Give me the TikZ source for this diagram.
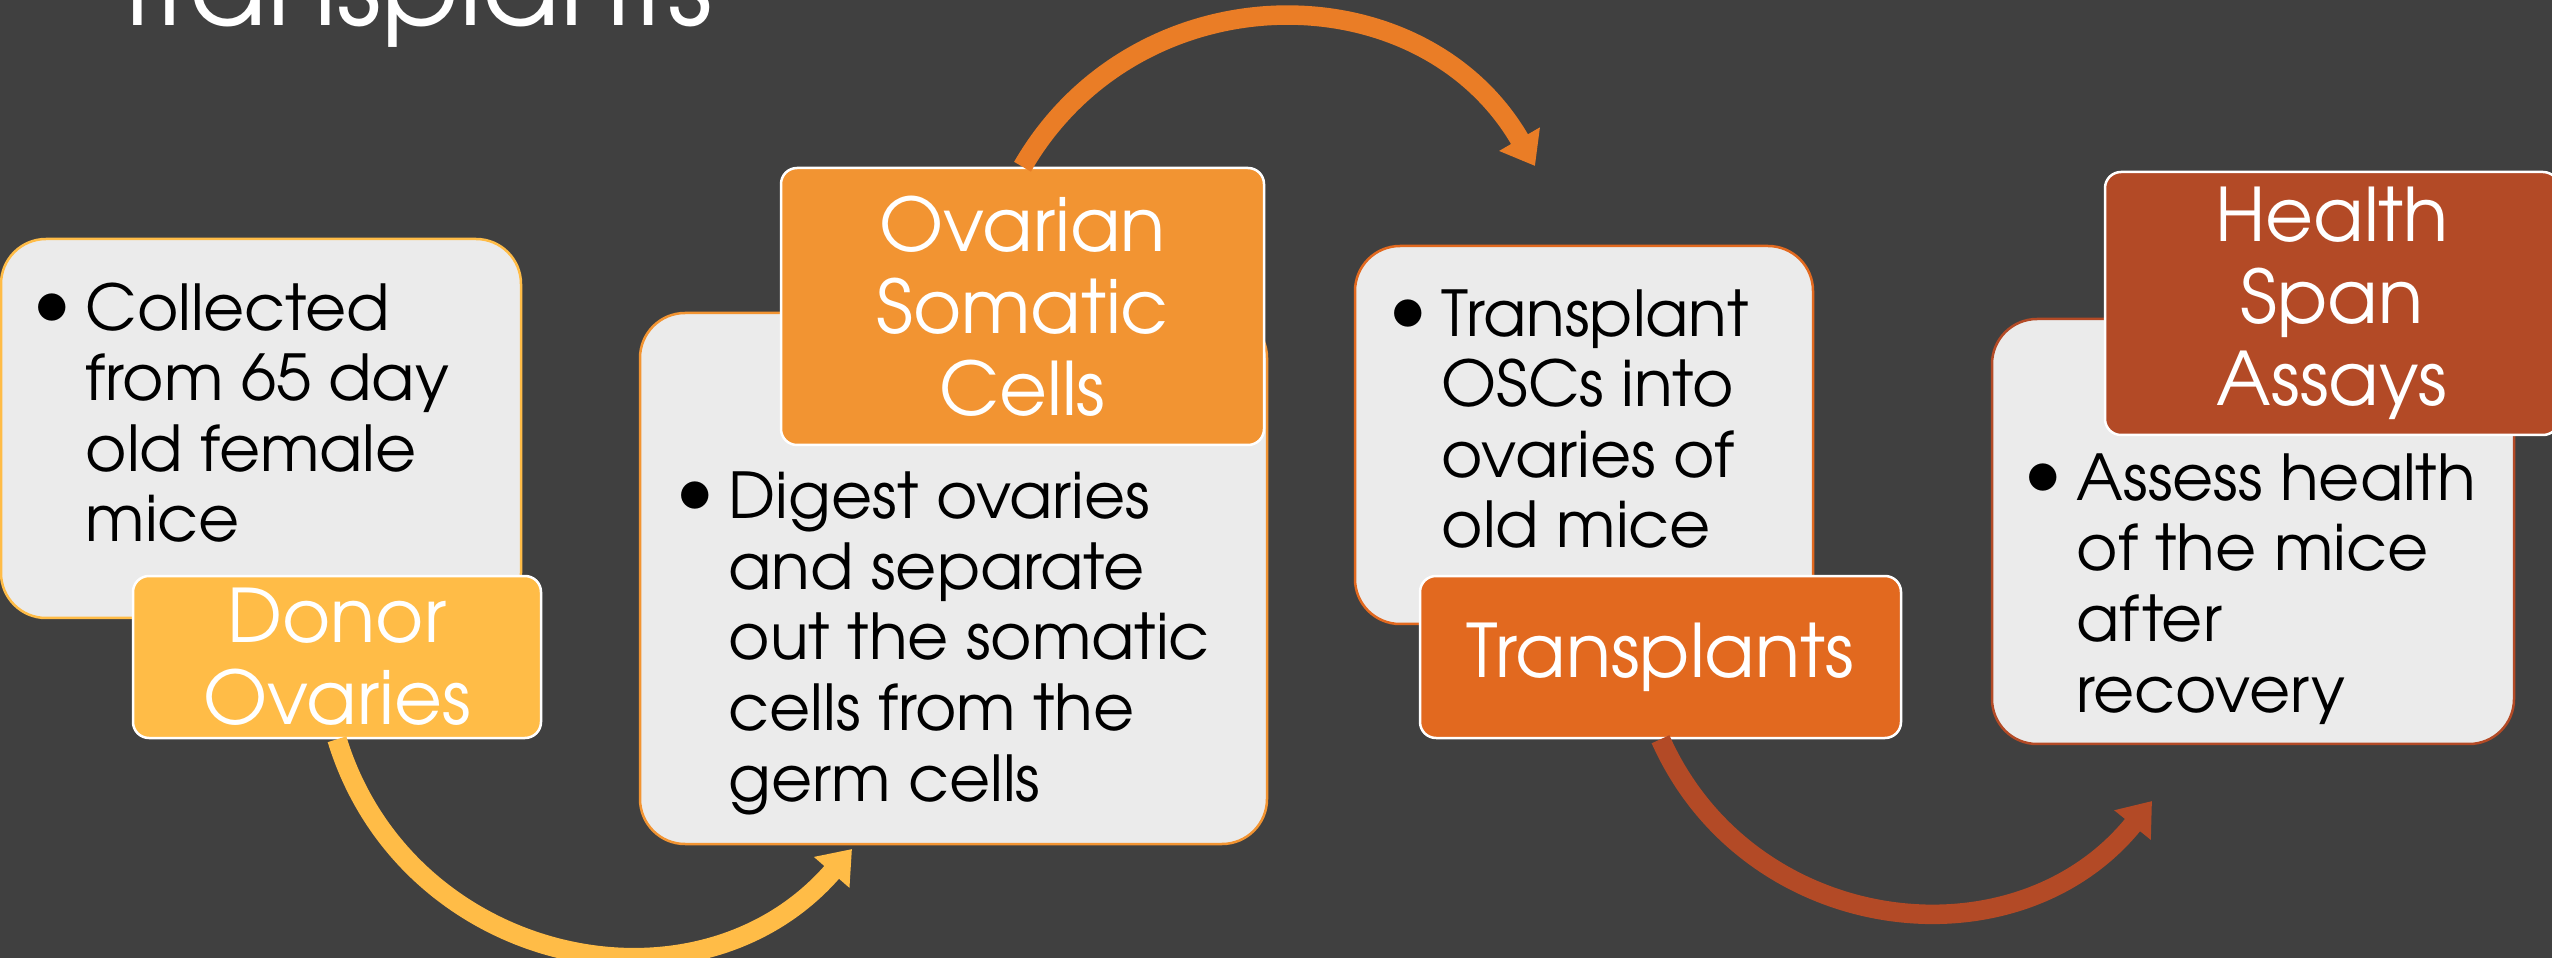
\documentclass[tikz,border=0pt]{standalone}
\usepackage{fontspec}
\usepackage{graphicx}
\setmainfont{texgyreadventor}[Extension=.otf, UprightFont=*-regular, BoldFont=*-bold, ItalicFont=*-italic, BoldItalicFont=*-bolditalic]
\usetikzlibrary{arrows.meta}
\definecolor{slidebg}{HTML}{404040}
\definecolor{cardgray}{HTML}{EBEBEB}
\definecolor{cyellow}{HTML}{FFBC47}
\definecolor{corange}{HTML}{F29432}
\definecolor{carrow}{HTML}{EA7D26}
\definecolor{cdeep}{HTML}{E2691F}
\definecolor{cbrown}{HTML}{B34A26}
\newcommand{\bul}{\llap{\raisebox{0.4mm}{\scalebox{1.2}{\textbullet}}\kern1.4mm}}
\begin{document}
\begin{tikzpicture}[line join=round, line cap=round, x=0.1mm, y=0.1mm, font=\fontsize{18pt}{20.1pt}\selectfont]
	\tikzset{card/.style={rectangle,rounded corners=4.5mm,fill=cardgray,line width=0.25mm,inner sep=0pt},
		tag/.style={rectangle,rounded corners=1.6mm,draw=white,line width=0.25mm,text=white,align=center,inner sep=0pt,font=\fontsize{21pt}{23.3pt}\selectfont},
		pts/.style={anchor=base west,align=left,inner sep=0pt,text=black},
		flow/.style={line width=1.95mm,line cap=butt,-{Triangle[width=4.5mm,length=3.1mm]}}}
	\path[fill=slidebg,use as bounding box](0,0)rectangle(2552,-958);
	\node[anchor=base west,inner sep=0pt,text=white,font=\fontsize{32.5pt}{39pt}\selectfont](ttl)at(113,-26){Transplants};
	% cards and their tags
	\path(261,-428.5)node[card,draw=cyellow,minimum width=52mm,minimum height=37.9mm](b1){}
	(337,-657)node[tag,fill=cyellow,minimum width=40.8mm,minimum height=16.2mm](l1){Donor\\Ovaries};
	\path(953.5,-578.5)node[card,draw=corange,minimum width=62.7mm,minimum height=53.1mm](b2){}
	(1022.5,-306.5)node[tag,fill=corange,minimum width=48.3mm,minimum height=27.7mm](l2){Ovarian\\Somatic\\Cells};
	\path(1584,-435)node[card,draw=cdeep,minimum width=45.8mm,minimum height=37.8mm](b3){}
	(1660.5,-657)node[tag,fill=cdeep,minimum width=48.1mm,minimum height=16.2mm](l3){Transplants};
	\path(2253,-531.5)node[card,draw=cbrown,minimum width=52.2mm,minimum height=42.5mm](b4){}
	(2332,-303.5)node[tag,fill=cbrown,minimum width=45.4mm,minimum height=26.3mm](l4){Health\\Span\\Assays};
	% bullet texts (anchored at the last line)
	\node[pts](t1)at(85,-542){\bul Collected\\from 65 day\\old female\\mice};
	\node[pts](t2)at(728,-801){\bul Digest ovaries\\and separate\\out the somatic\\cells from the\\germ cells};
	\node[pts](t3)at(1441,-548){\bul Transplant\\OSCs into\\ovaries of\\old mice};
	\node[pts](t4)at(2076,-712){\bul Assess health\\of the mice\\after\\recovery};
	% arrow ends
	\coordinate(e1)at(852,-849);\coordinate(e2)at(1535,-166);\coordinate(e3)at(2152,-801);
	\draw[flow,cyellow](l1.south)to[out=-73,in=-131,looseness=1.15](e1);
	\draw[flow,carrow](l2.north)to[out=60,in=120,looseness=1.14](e2);
	\draw[flow,cbrown](l3.south)to[out=-66,in=-129,looseness=1.12](e3);
\end{tikzpicture}
\end{document}
